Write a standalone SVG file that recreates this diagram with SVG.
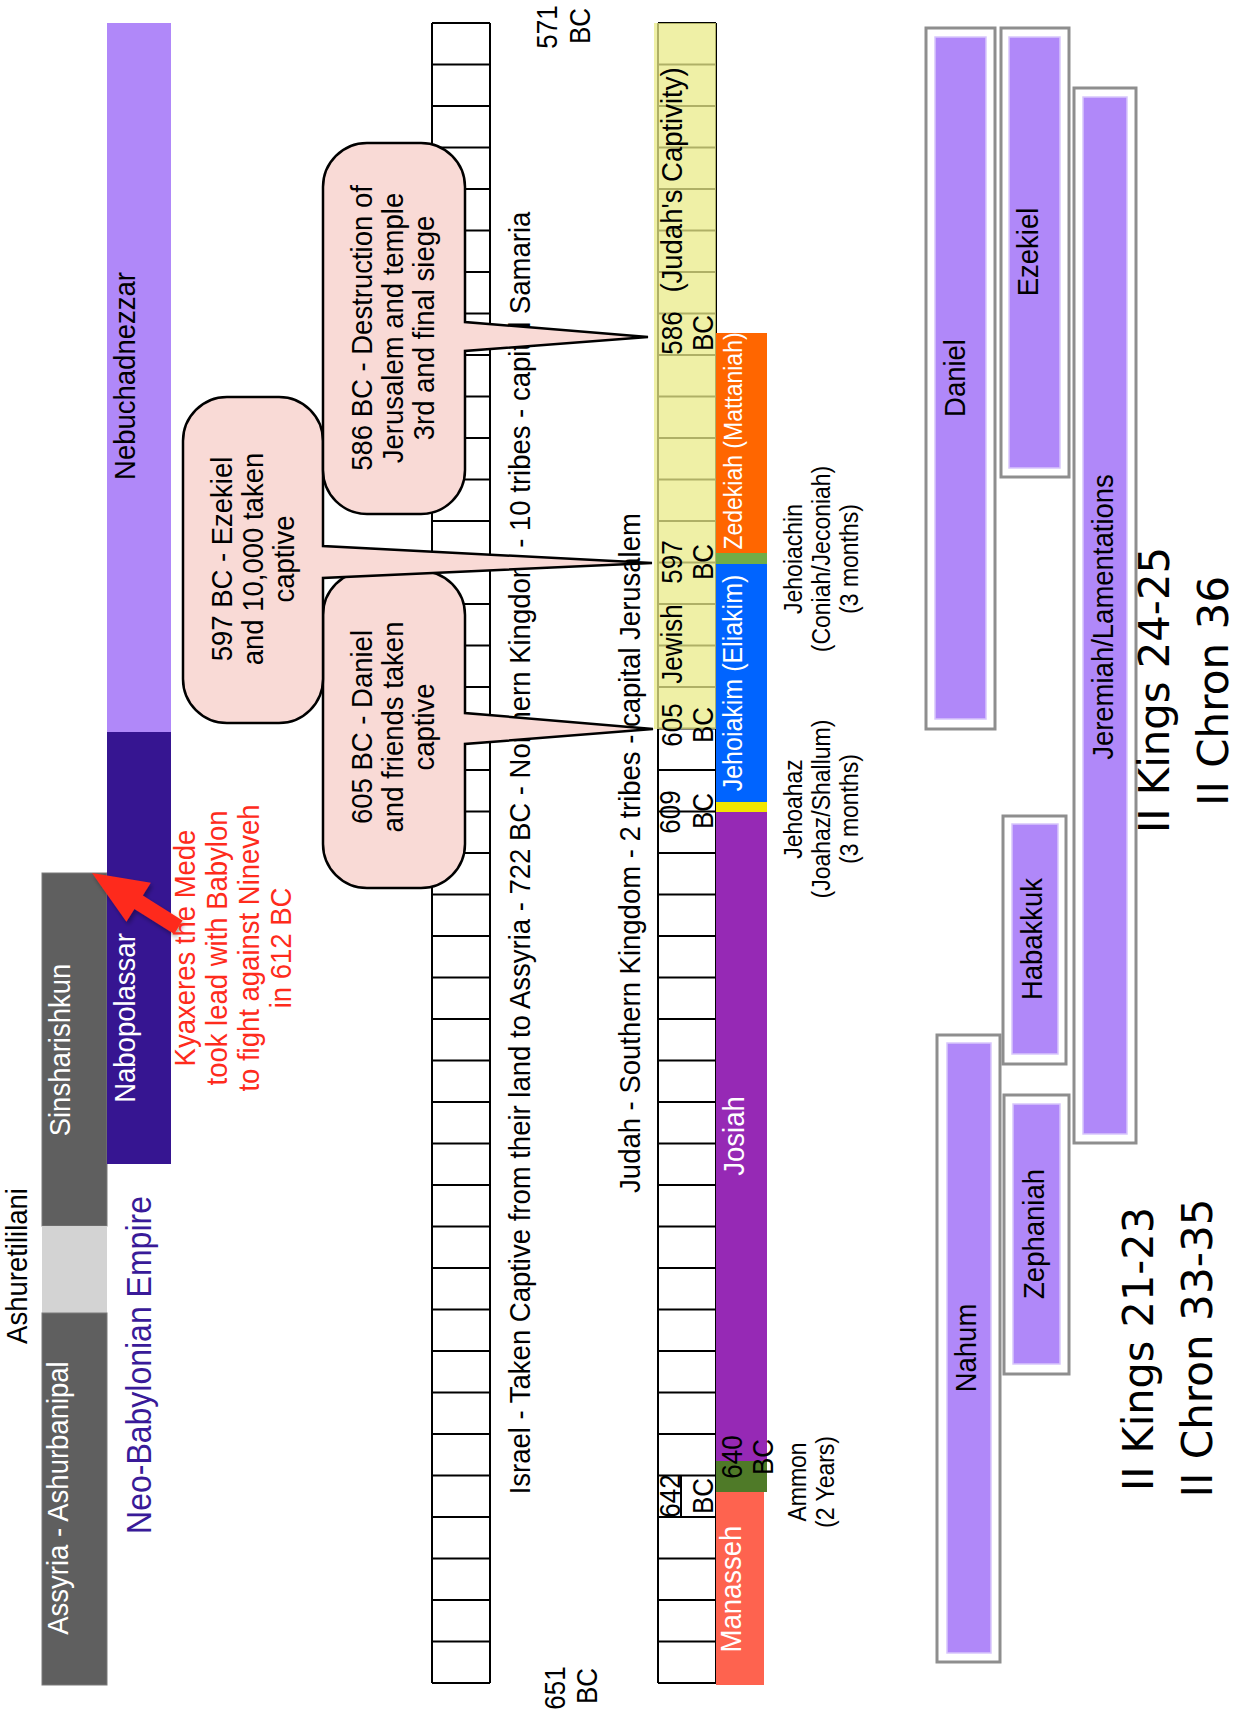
<svg xmlns="http://www.w3.org/2000/svg" width="1236" height="1716" viewBox="0 0 1236 1716">
<defs>
<style>
text{font-family:"Liberation Sans",Arial,Helvetica,sans-serif;font-size:27.5px;text-anchor:middle;fill:#000}
.w{fill:#fff}
.d{font-size:26px}
.s{font-size:23px}
.red{fill:#fe2b1c}
.nb{fill:#391a98;font-size:32px}
.comic{font-family:"DejaVu Sans",sans-serif;font-size:42px}
.grid{fill:none;stroke:#000;stroke-width:2}
.call{fill:#f9dad6;stroke:#000;stroke-width:2.5}
.po{fill:#fff;stroke:#8e8e8e;stroke-width:3}
.pi{fill:#b088f9;stroke:#d8c6fb;stroke-width:1.5}
.gray{fill:#5f5f5f;stroke:#7a7a7a;stroke-width:1}
</style>
<path id="rows" d="M0 23h58M0 64.5h58M0 106h58M0 147.5h58M0 189h58M0 230.5h58M0 272h58M0 313.5h58M0 355h58M0 396.5h58M0 438h58M0 479.5h58M0 521h58M0 562.5h58M0 604h58M0 645.5h58M0 687h58M0 728.5h58M0 770h58M0 811.5h58M0 853h58M0 894.5h58M0 936h58M0 977.5h58M0 1019h58M0 1060.5h58M0 1102h58M0 1143.5h58M0 1185h58M0 1226.5h58M0 1268h58M0 1309.5h58M0 1351h58M0 1392.5h58M0 1434h58M0 1475.5h58M0 1517h58M0 1558.5h58M0 1600h58M0 1641.5h58M0 1683h58"/>
<filter id="sh" x="-30%" y="-30%" width="160%" height="160%"><feDropShadow dx="2" dy="3" stdDeviation="2" flood-color="#000" flood-opacity="0.35"/></filter>
</defs>
<rect width="1236" height="1716" fill="#fff"/>

<g id="assyria">
<rect class="gray" x="42" y="873" width="65" height="353"/>
<rect x="42" y="1226" width="65" height="87" fill="#d3d3d3"/>
<rect class="gray" x="42" y="1313" width="65" height="372"/>
<text class="w" transform="translate(70,1050) rotate(-90) scale(1,1.1)">Sinsharishkun</text>
<text class="w" transform="translate(68,1498) rotate(-90) scale(1,1.1)">Assyria - Ashurbanipal</text>
<text transform="translate(27,1266) rotate(-90) scale(1,1.1)">Ashuretililani</text>
</g>

<g id="babylon">
<rect x="107" y="23" width="64" height="709" fill="#b088f9"/>
<rect x="107" y="732" width="64" height="432" fill="#361591"/>
<text transform="translate(135,376) rotate(-90) scale(1,1.1)">Nebuchadnezzar</text>
<text class="w" transform="translate(135,1018) rotate(-90) scale(1,1.1)">Nabopolassar</text>
<text class="nb" transform="translate(151,1365) rotate(-90) scale(1,1.08)">Neo-Babylonian Empire</text>
</g>

<g id="kyaxeres">
<polygon points="92,873 150.8,882.7 142.8,895.4 182.6,920.4 174.2,934 134.4,909 126.4,921.7" fill="#fe2b1c" filter="url(#sh)"/>
<text class="red" transform="translate(195,948) rotate(-90) scale(1,1.1)"><tspan x="0">Kyaxeres the Mede</tspan><tspan x="0" dy="29.1">took lead with Babylon</tspan><tspan x="0" dy="29.1">to fight against Nineveh</tspan><tspan x="0" dy="29.1">in 612 BC</tspan></text>
</g>

<g id="israel">
<g class="grid"><use href="#rows" x="432"/><path d="M432 23V1683M490 23V1683"/></g>
<text transform="translate(530,853) rotate(-90) scale(1,1.1)">Israel - Taken Captive from their land to Assyria - 722 BC - Northern Kingdom - 10 tribes - capital Samaria</text>
</g>

<g id="judah">
<g class="grid"><use href="#rows" x="658"/><path d="M658 23V1683M716 23V1683M681 1475.5V1517"/></g>
<rect x="654" y="23" width="62" height="706" fill="#eaeb88" opacity="0.75"/>
<rect x="716" y="333" width="51" height="220" fill="#ff6600"/>
<rect x="716" y="553" width="51" height="11" fill="#70ad47"/>
<rect x="716" y="564" width="51" height="238" fill="#0064ff"/>
<rect x="716" y="802" width="51" height="10" fill="#f2e600"/>
<rect x="716" y="812" width="51" height="649" fill="#9629b5"/>
<rect x="716" y="1461" width="51" height="31" fill="#4f7a28"/>
<rect x="716" y="1492" width="48" height="193" fill="#fe634f"/>
<text transform="translate(640,853) rotate(-90) scale(1,1.1)">Judah - Southern Kingdom - 2 tribes - capital Jerusalem</text>
<text class="d" transform="translate(557,27) rotate(-90) scale(1,1.1)">571</text>
<text class="d" transform="translate(590,26) rotate(-90) scale(1,1.1)">BC</text>
<text class="d" transform="translate(565,1688) rotate(-90) scale(1,1.1)">651</text>
<text class="d" transform="translate(597,1686) rotate(-90) scale(1,1.1)">BC</text>
<text class="d" transform="translate(682,333) rotate(-90) scale(1,1.1)">586</text>
<text class="d" transform="translate(713,333) rotate(-90) scale(1,1.1)">BC</text>
<text transform="translate(682,180) rotate(-90) scale(1,1.1)">(Judah's Captivity)</text>
<text class="d" transform="translate(682,725) rotate(-90) scale(1,1.1)">605</text>
<text class="d" transform="translate(713,725) rotate(-90) scale(1,1.1)">BC</text>
<text class="d" transform="translate(682,644) rotate(-90) scale(1,1.1)">Jewish</text>
<text class="d" transform="translate(682,562) rotate(-90) scale(1,1.1)">597</text>
<text class="d" transform="translate(713,562) rotate(-90) scale(1,1.1)">BC</text>
<text class="d" transform="translate(680,812) rotate(-90) scale(1,1.1)">609</text>
<text class="d" transform="translate(713,811) rotate(-90) scale(1,1.1)">BC</text>
<text class="d" transform="translate(680,1496) rotate(-90) scale(1,1.1)">642</text>
<text class="d" transform="translate(713,1496) rotate(-90) scale(1,1.1)">BC</text>
<text class="d" transform="translate(742,1457) rotate(-90) scale(1,1.1)">640</text>
<text class="d" transform="translate(773,1457) rotate(-90) scale(1,1.1)">BC</text>
<text class="w s" transform="translate(742,441) rotate(-90) scale(1,1.1)">Zedekiah (Mattaniah)</text>
<text class="w" style="font-size:25px" transform="translate(742,683) rotate(-90) scale(1,1.1)">Jehoiakim (Eliakim)</text>
<text class="w" transform="translate(744,1136) rotate(-90) scale(1,1.1)">Josiah</text>
<text class="w" transform="translate(741,1589) rotate(-90) scale(1,1.1)">Manasseh</text>
<text class="s" transform="translate(802,559) rotate(-90) scale(1,1.1)"><tspan x="0">Jehoiachin</tspan><tspan x="0" dy="25.5">(Coniah/Jeconiah)</tspan><tspan x="0" dy="25.5">(3 months)</tspan></text>
<text class="s" transform="translate(802,809) rotate(-90) scale(1,1.1)"><tspan x="0">Jehoahaz</tspan><tspan x="0" dy="25.5">(Joahaz/Shallum)</tspan><tspan x="0" dy="25.5">(3 months)</tspan></text>
<text class="s" transform="translate(806,1482) rotate(-90) scale(1,1.1)"><tspan x="0">Ammon</tspan><tspan x="0" dy="25.5">(2 Years)</tspan></text>
</g>

<g id="callout-605">
<path class="call" d="M367 571H421A44 44 0 0 1 465 615V713L653 729L465 744V844A44 44 0 0 1 421 888H367A44 44 0 0 1 323 844V615A44 44 0 0 1 367 571Z"/>
<text transform="translate(372,727) rotate(-90) scale(1,1.1)"><tspan x="0">605 BC - Daniel</tspan><tspan x="0" dy="28.2">and friends taken</tspan><tspan x="0" dy="28.2">captive</tspan></text>
</g>
<g id="callout-597">
<path class="call" d="M227 397H279A44 44 0 0 1 323 441V546L652 563L323 578V679A44 44 0 0 1 279 723H227A44 44 0 0 1 183 679V441A44 44 0 0 1 227 397Z"/>
<text transform="translate(232,559) rotate(-90) scale(1,1.1)"><tspan x="0">597 BC - Ezekiel</tspan><tspan x="0" dy="28.2">and 10,000 taken</tspan><tspan x="0" dy="28.2">captive</tspan></text>
</g>
<g id="callout-586">
<path class="call" d="M367 143H421A44 44 0 0 1 465 187V322L648 337L465 351V470A44 44 0 0 1 421 514H367A44 44 0 0 1 323 470V187A44 44 0 0 1 367 143Z"/>
<text transform="translate(372,328) rotate(-90) scale(1,1.1)"><tspan x="0">586 BC - Destruction of</tspan><tspan x="0" dy="28.2">Jerusalem and temple</tspan><tspan x="0" dy="28.2">3rd and final siege</tspan></text>
</g>

<g id="daniel"><rect class="po" x="926" y="28" width="69" height="701"/><rect class="pi" x="935" y="37" width="51" height="682"/><text transform="translate(965,378) rotate(-90) scale(1,1.1)">Daniel</text></g>
<g id="ezekiel"><rect class="po" x="1001" y="28" width="68" height="449"/><rect class="pi" x="1009" y="37" width="51" height="431"/><text transform="translate(1038,252) rotate(-90) scale(1,1.1)">Ezekiel</text></g>
<g id="jeremiah"><rect class="po" x="1074" y="88" width="62" height="1055"/><rect class="pi" x="1083" y="97" width="44" height="1037"/><text transform="translate(1113,617) rotate(-90) scale(1,1.1)">Jeremiah/Lamentations</text></g>
<g id="habakkuk"><rect class="po" x="1003" y="816" width="63" height="248"/><rect class="pi" x="1012" y="824" width="46" height="230"/><text transform="translate(1042,939) rotate(-90) scale(1,1.1)">Habakkuk</text></g>
<g id="nahum"><rect class="po" x="937" y="1035" width="63" height="627"/><rect class="pi" x="947" y="1043" width="44" height="610"/><text transform="translate(976,1348) rotate(-90) scale(1,1.1)">Nahum</text></g>
<g id="zephaniah"><rect class="po" x="1004" y="1095" width="65" height="279"/><rect class="pi" x="1013" y="1104" width="47" height="260"/><text transform="translate(1044,1234) rotate(-90) scale(1,1.1)">Zephaniah</text></g>

<g id="refs">
<text class="comic" transform="translate(1169,690) rotate(-90)" textLength="286" lengthAdjust="spacingAndGlyphs">II Kings 24-25</text>
<text class="comic" transform="translate(1228,691) rotate(-90)" textLength="230" lengthAdjust="spacingAndGlyphs">II Chron 36</text>
<text class="comic" transform="translate(1153,1349) rotate(-90)" textLength="284" lengthAdjust="spacingAndGlyphs">II Kings 21-23</text>
<text class="comic" transform="translate(1212,1348) rotate(-90)" textLength="299" lengthAdjust="spacingAndGlyphs">II Chron 33-35</text>
</g>
</svg>
